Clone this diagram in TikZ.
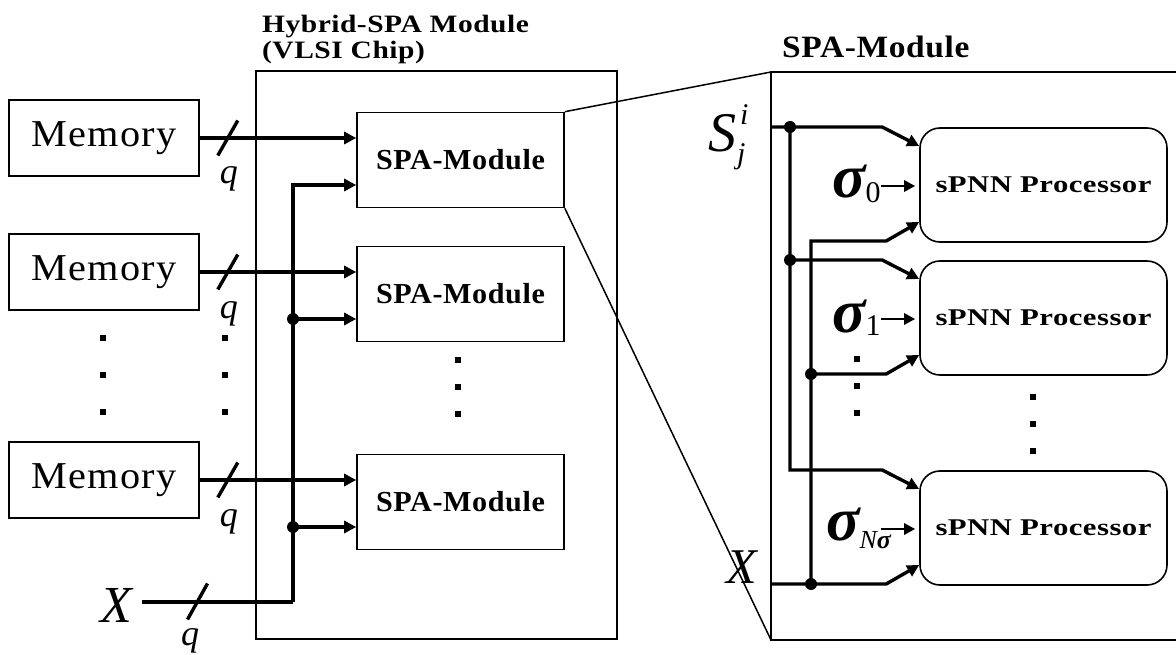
\documentclass[tikz,border=0pt]{standalone}
\usepackage{fontspec}
\setmainfont{Liberation Serif}
\usetikzlibrary{arrows.meta,calc}
\newcommand{\setsz}[1]{\fontsize{#1}{#1}\selectfont}

\begin{document}
\begin{tikzpicture}[x=1pt,y=-1pt,
  box/.style={draw,line width=1.6pt,inner sep=0pt},
  frame/.style={line width=1.5pt},
  bus/.style={line width=3.4pt},
  arr/.style={bus,-{Triangle[length=12pt,width=12pt]}},
  sigarr/.style={line width=2.8pt,-{Triangle[length=11pt,width=11pt]}},
  mem/.style={box,minimum width=190pt,minimum height=76pt,
    font=\setsz{38}\addfontfeatures{FakeStretch=1.06,LetterSpace=3}},
  spa/.style={box,minimum width=207pt,minimum height=95pt,
    font=\setsz{29}\bfseries\addfontfeatures{FakeStretch=1.04,LetterSpace=2}},
  proc/.style={box,rounded corners=20pt,minimum width=247pt,minimum height=114pt,
    font=\setsz{24}\bfseries\addfontfeatures{FakeStretch=1.28,LetterSpace=2}},
  dot/.style={circle,fill,inner sep=0pt,minimum size=12pt},
  sq/.style={fill,inner sep=0pt,minimum size=6.5pt},
  qlab/.style={anchor=base,inner sep=0pt,font=\setsz{36}\itshape},
  big/.style={inner sep=0pt,font=\setsz{52}\itshape},
  sig/.style={anchor=base west,inner sep=0pt,font=\setsz{62}\bfseries\itshape},
]
\path[use as bounding box] (0,0) rectangle (1176,655);

% ---------- chip ----------
\node[box,minimum width=361pt,minimum height=568pt] (chip) at (436.5,355) {};
\node[anchor=north west,inner sep=0pt,align=left,
  font=\fontsize{25}{26}\selectfont\bfseries\addfontfeatures{FakeStretch=1.18,LetterSpace=2}]
  (chiptitle) at (262,15) {Hybrid-SPA Module\\(VLSI Chip)};

% memories
\node[mem] (mem1) at (104,138) {Memory};
\node[mem] (mem2) at (104,272) {Memory};
\node[mem] (mem3) at (104,480) {Memory};

% SPA modules
\node[spa] (spa1) at (460.5,160) {SPA-Module};
\node[spa] (spa2) at (460.5,294) {SPA-Module};
\node[spa] (spa3) at (460.5,502) {SPA-Module};
\foreach \i in {1,2,3}{
  \coordinate (spa\i a) at ($(spa\i.west)+(0,-22)$);
  \coordinate (spa\i b) at ($(spa\i.west)+(0,25)$);
}

% memory buses
\foreach \i in {1,2,3}{
  \draw[arr] (mem\i.east) -- (spa\i a);
  \coordinate (cut\i) at ($(mem\i.east)+(28,0)$);
  \draw[bus] ($(cut\i)+(-10,17.5)$) -- ($(cut\i)+(10,-17.5)$);
  \node[qlab] (q\i) at ($(cut\i)+(1,46)$) {q};
}

% input X bus
\node[big,anchor=base west] (xl) at (100,622) {X};
\coordinate (xin) at (142,602);
\coordinate (xturn) at (293,602);
\draw[bus] (xin) -- (xturn);
\draw[arr] (xturn) |- (spa1b);
\draw[arr] (xturn |- spa2b) -- (spa2b);
\draw[arr] (xturn |- spa3b) -- (spa3b);
\node[dot] (xj2) at (xturn |- spa2b) {};
\node[dot] (xj3) at (xturn |- spa3b) {};
\coordinate (cutx) at (197.5,601.5);
\draw[bus] ($(cutx)+(-10,18)$) -- ($(cutx)+(10,-18)$);
\node[qlab] (qx) at (190,645) {q};

% vertical ellipses
\foreach \x/\n in {103/a,225/b}{
  \foreach \y/\m in {338/1,375/2,412/3}{
    \node[sq] (v\n\m) at (\x,\y) {};
  }
}
\foreach \y/\m in {360/1,387/2,414/3}{
  \node[sq] (vc\m) at (458,\y) {};
}

% ---------- enlarged SPA module ----------
\coordinate (bigNW) at (771,72);
\coordinate (bigSW) at (771,640);
\draw[frame] (1177,72) -- (bigNW) -- (bigSW) -- (1177,640);
\draw[frame] (spa1.north east) -- (bigNW);
\draw[frame] (spa1.south east) -- (bigSW);
\node[anchor=base west,inner sep=0pt,
  font=\setsz{31}\bfseries\addfontfeatures{FakeStretch=1.08,LetterSpace=2}]
  (zoomtitle) at (782,58) {SPA-Module};

\node[proc] (proc1) at (1043.5,185) {sPNN Processor};
\node[proc] (proc2) at (1043.5,318) {sPNN Processor};
\node[proc] (proc3) at (1043.5,528) {sPNN Processor};
\foreach \i in {1,2,3}{
  \coordinate (p\i u) at ($(proc\i.west)+(0,-39)$);
  \coordinate (p\i ub) at ($(p\i u)+(-37,-19)$);
  \coordinate (p\i l) at ($(proc\i.west)+(0,37)$);
  \coordinate (p\i lb) at ($(p\i l)+(-33,19)$);
}

% S input bus
\node[anchor=base west,inner sep=0pt] (slab) at (708,152)
  {\setsz{56}\itshape S\rlap{\raisebox{27pt}{\setsz{30}\kern4pt i}}%
   \raisebox{-12pt}{\setsz{30}\kern1pt j}};
\coordinate (sin) at (771,127);
\coordinate (sj) at (790,127);
\draw[arr] (sin) -- (p1ub) -- (p1u);
\draw[arr] (sj) |- (p3ub) -- (p3u);
\draw[arr] (sj |- p2ub) -- (p2ub) -- (p2u);
\node[dot] (sj1) at (sj) {};
\node[dot] (sj2) at (sj |- p2ub) {};

% X input bus
\node[big,anchor=base west,font=\setsz{50}\itshape] (xr) at (726,583) {X};
\coordinate (xrin) at (771,584);
\coordinate (xj) at (811,584);
\draw[arr] (xrin) -- (p3lb) -- (p3l);
\draw[arr] (xj) |- (p1lb) -- (p1l);
\draw[arr] (xj |- p2lb) -- (p2lb) -- (p2l);
\node[dot] (xj1) at (xj) {};
\node[dot] (xjm) at (xj |- p2lb) {};

% sigma inputs
\node[sig] (s0) at (832,198) {σ\raisebox{-5pt}{\setsz{30}\mdseries\upshape 0}};
\node[sig] (s1) at (832,332) {σ\raisebox{-3pt}{\setsz{30}\mdseries\upshape 1}};
\node[sig] (sn) at (826,540) {σ\raisebox{-8pt}{\setsz{26}\mdseries N\bfseries σ}};
\foreach \i in {1,2,3}{
  \draw[sigarr] ($(proc\i.west)+(-38,1)$) -- ($(proc\i.west)+(-4,1)$);
}

% ellipses in the enlarged module
\foreach \y/\m in {359/1,386/2,413/3}{
  \node[sq] (vs\m) at (857,\y) {};
}
\foreach \y/\m in {397/1,424/2,451/3}{
  \node[sq] (vp\m) at (1033,\y) {};
}
\end{tikzpicture}
\end{document}
